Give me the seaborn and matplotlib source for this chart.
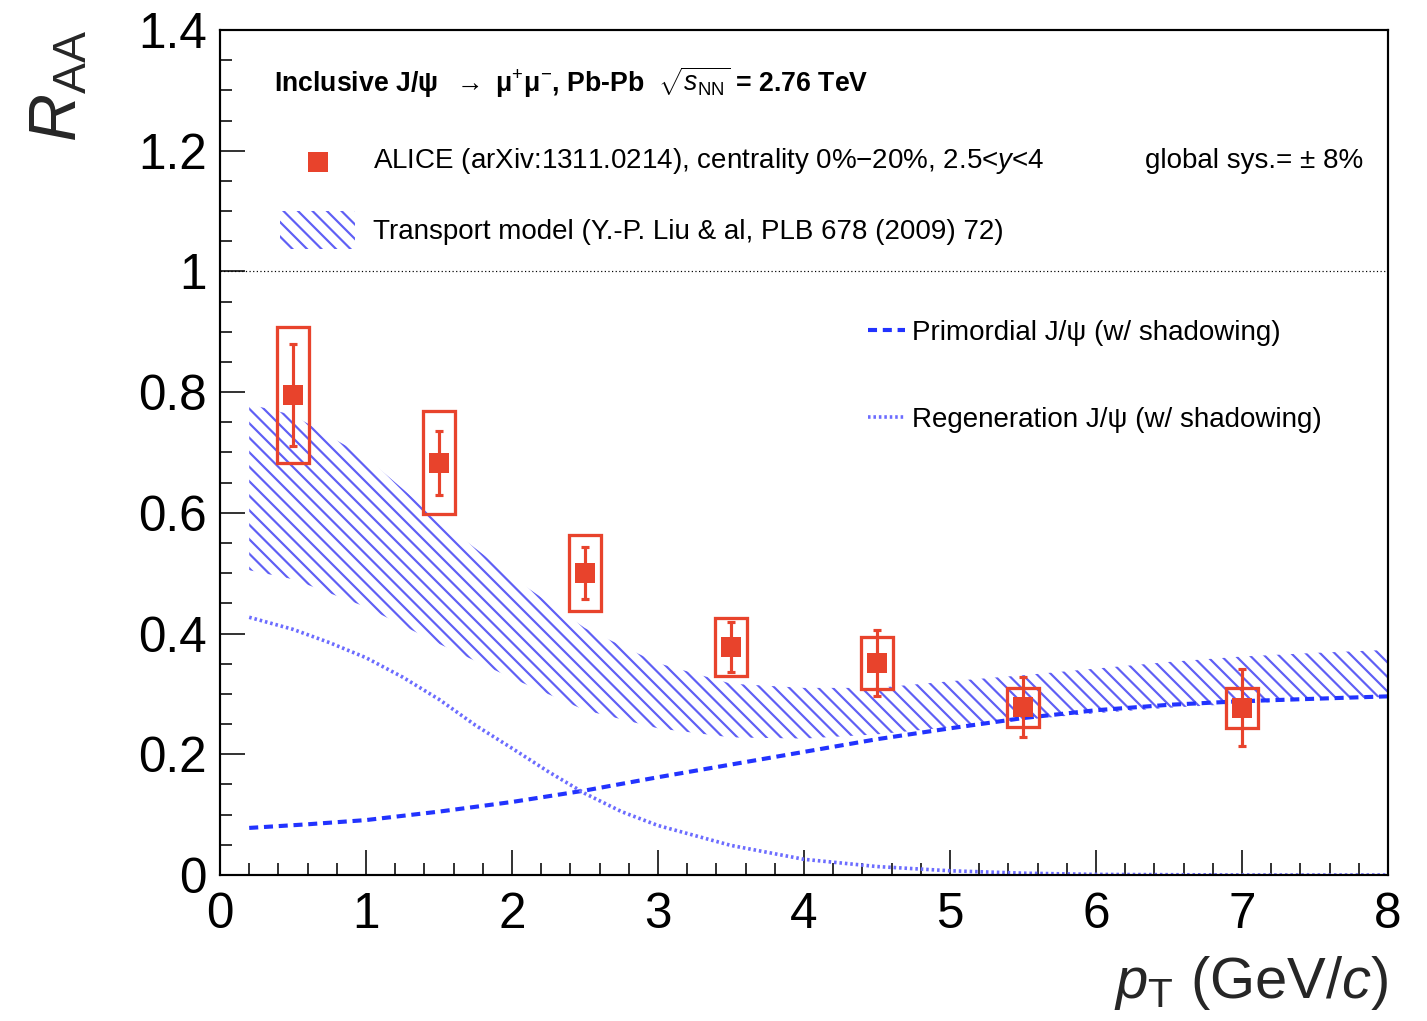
import matplotlib
matplotlib.use("Agg")
import matplotlib.pyplot as plt
import matplotlib.ticker as mticker
import seaborn as sns

# ALICE inclusive J/psi R_AA vs pT, Pb-Pb 0%-20%, 2.5<y<4
pt_points = [0.5, 1.5, 2.5, 3.5, 4.5, 5.5, 7.0]
raa_points = [0.795, 0.683, 0.500, 0.378, 0.351, 0.278, 0.277]
stat_err = [0.085, 0.053, 0.043, 0.041, 0.055, 0.050, 0.064]
sys_err = [0.113, 0.085, 0.063, 0.048, 0.043, 0.032, 0.033]

# Transport model band (Y.-P. Liu et al.)
band_pt = [0.2, 0.5, 1.0, 1.5, 2.0, 2.5, 3.0, 3.5, 4.0, 4.5, 5.0, 5.5, 6.0, 6.5, 7.0, 7.5, 8.0]
band_hi = [0.780, 0.762, 0.692, 0.588, 0.494, 0.409, 0.351, 0.317, 0.310, 0.310, 0.321, 0.331, 0.342, 0.353, 0.362, 0.368, 0.373]
band_lo = [0.505, 0.490, 0.444, 0.383, 0.326, 0.273, 0.243, 0.228, 0.226, 0.233, 0.245, 0.257, 0.268, 0.277, 0.284, 0.290, 0.295]

# Primordial J/psi component
prim_pt = [0.2, 0.6, 1.0, 1.5, 2.0, 2.5, 3.0, 3.5, 4.0, 4.5, 5.0, 5.5, 6.0, 6.5, 7.0, 7.5, 8.0]
prim_raa = [0.078, 0.084, 0.091, 0.105, 0.121, 0.140, 0.162, 0.183, 0.204, 0.225, 0.243, 0.260, 0.273, 0.282, 0.288, 0.292, 0.296]

# Regenerated J/psi component
regen_pt = [0.2, 0.5, 0.75, 1.0, 1.25, 1.5, 1.75, 2.0, 2.25, 2.5, 2.75, 3.0, 3.5, 4.0, 4.5, 5.0, 5.5, 6.0, 7.0, 8.0]
regen_raa = [0.427, 0.407, 0.385, 0.360, 0.328, 0.291, 0.248, 0.210, 0.171, 0.135, 0.105, 0.082, 0.049, 0.026, 0.014, 0.007, 0.003, 0.001, 0.0, 0.0]

x_ticks = [0, 1, 2, 3, 4, 5, 6, 7, 8]
y_ticks = [0, 0.2, 0.4, 0.6, 0.8, 1.0, 1.2, 1.4]

title_text = ("Inclusive J/\u03c8  $\\rightarrow$ \u03bc$^{+}$\u03bc$^{-}$, Pb-Pb  "
              "$\\sqrt{s_{\\mathrm{NN}}}$ = 2.76 TeV")
alice_label = "ALICE (arXiv:1311.0214), centrality 0%\u221220%, 2.5<$y$<4"
transport_label = "Transport model (Y.-P. Liu & al, PLB 678 (2009) 72)"
prim_label = "Primordial J/\u03c8 (w/ shadowing)"
regen_label = "Regeneration J/\u03c8 (w/ shadowing)"
global_sys_text = "global sys.= \u00b1 8%"

RED = "#e8432c"
HATCH = "#5f5ff5"
PRIM = "#2233ff"
REGEN = "#6c6cff"
DPI = 87
W, H = 1427, 1021

sns.set_theme(style="white")
plt.rcParams.update({
    "mathtext.fontset": "custom",
    "mathtext.rm": "Liberation Sans",
    "mathtext.it": "Liberation Sans:italic",
    "mathtext.bf": "Liberation Sans:bold",
    "mathtext.sf": "Liberation Sans",
    "hatch.linewidth": 1.8,
    "hatch.color": HATCH,
    "axes.edgecolor": "black",
    "text.color": "black",
    "xtick.color": "black",
    "ytick.color": "black",
})
plt.rcParams["font.family"] = ["Liberation Sans", "DejaVu Sans"]

fig = plt.figure(figsize=(W / DPI, H / DPI), dpi=DPI)
ax = fig.add_axes([220 / W, 1 - 875 / H, 1168 / W, 845 / H])

# hatched transport band
band = ax.fill_between(band_pt, band_lo, band_hi, facecolor="none",
                       edgecolor=HATCH, hatch="\\\\", linewidth=0, zorder=1)

# model components
sns.lineplot(x=prim_pt, y=prim_raa, ax=ax, color=PRIM, linewidth=3.4,
             linestyle=(0, (2.2, 1.4)), estimator=None, sort=False, zorder=2)
prim_line = ax.lines[-1]
sns.lineplot(x=regen_pt, y=regen_raa, ax=ax, color=REGEN, linewidth=3.0,
             linestyle=(0, (0.7, 0.8)), estimator=None, sort=False, zorder=2)
regen_line = ax.lines[-1]

ax.axhline(1.0, color="black", linewidth=1.0, linestyle=(0, (1, 2)), zorder=1)

# systematic boxes
ax.bar(pt_points, [2 * s for s in sys_err],
       bottom=[r - s for r, s in zip(raa_points, sys_err)],
       width=0.22, fill=False, edgecolor=RED, linewidth=2.7, zorder=3)
# statistical errors
ax.errorbar(pt_points, raa_points, yerr=stat_err, fmt="none", ecolor=RED,
            elinewidth=2.6, capsize=3.5, capthick=2.6, zorder=4)
# data points
sns.scatterplot(x=pt_points, y=raa_points, ax=ax, marker="s", s=280,
                color=RED, linewidth=0, zorder=5)
alice_pts = ax.collections[-1]

ax.set_xlim(0, 8)
ax.set_ylim(0, 1.4)
ax.set_xticks(x_ticks)
ax.set_yticks(y_ticks)
ax.xaxis.set_minor_locator(mticker.MultipleLocator(0.2))
ax.yaxis.set_minor_locator(mticker.MultipleLocator(0.05))
ax.yaxis.set_major_formatter(mticker.FuncFormatter(lambda v, p: f"{v:g}"))
ax.xaxis.set_major_formatter(mticker.FuncFormatter(lambda v, p: f"{v:g}"))
ax.tick_params(which="both", direction="in", top=False, right=False,
               left=True, bottom=True, width=1.3, colors="black")
ax.tick_params(which="major", length=20.5, labelsize=41)
ax.tick_params(which="minor", length=10)
ax.tick_params(axis="x", which="major", pad=14)
ax.tick_params(axis="y", which="major", pad=11)
for sp in ax.spines.values():
    sp.set_linewidth(1.8)
    sp.set_color("black")

ax.set_xlabel("$p_{\\mathrm{T}}$ (GeV/$c$)", loc="right", fontsize=48)
ax.xaxis.set_label_coords(1.0, -0.093)
ax.set_ylabel("$R_{\\mathrm{AA}}$", loc="top", fontsize=55)
ax.yaxis.set_label_coords(-0.111, 1.0)

ax.text(0.0462, 0.9373, title_text, transform=ax.transAxes, fontsize=22,
        fontweight="bold", va="center", ha="left")
ax.text(0.792, 0.845, global_sys_text, transform=ax.transAxes, fontsize=23,
        va="center", ha="left")

leg1 = ax.legend(handles=[alice_pts, band], labels=[alice_label, transport_label],
                 loc="upper left", bbox_to_anchor=(0.0514, 0.8698), frameon=False,
                 fontsize=23, borderpad=0, borderaxespad=0, handlelength=2.7,
                 handleheight=1.73, handletextpad=0.65, labelspacing=1.18,
                 scatterpoints=1, scatteryoffsets=[0.17])
ax.add_artist(leg1)
ax.legend(handles=[prim_line, regen_line], labels=[prim_label, regen_label],
          loc="upper left", bbox_to_anchor=(0.5548, 0.6568), frameon=False,
          fontsize=23, borderpad=0, borderaxespad=0, handlelength=1.33,
          handletextpad=0.25, labelspacing=2.2)

fig.savefig("out.png", dpi=DPI)
